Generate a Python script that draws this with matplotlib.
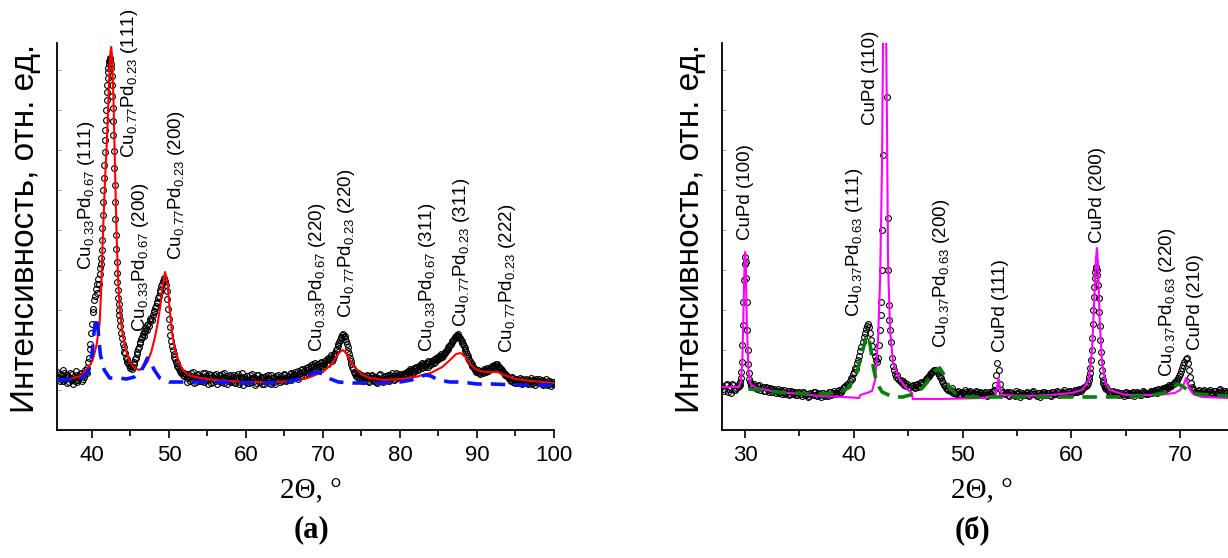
import numpy as np
import matplotlib.pyplot as plt

plt.rcParams['font.family'] = ['Liberation Sans', 'DejaVu Sans']
plt.rcParams['mathtext.default'] = 'regular'

# ---------------- (a) ----------------
# measured scan, segments: (start angle, step, intensities)
a_scan = [
    (35.5, 0.2, [58, 52, 49, 55, 60, 51, 47, 54, 57, 50, 46, 53, 59, 48, 52, 56, 49, 55, 60, 57]),
    (35.6, 0.2, [53, 56, 51, 49, 57, 53, 55, 48, 52, 56, 51, 49, 55, 50, 54, 57, 51, 53, 58]),
    (39.4, 0.1, [62, 68, 72, 81, 86, 97, 106, 118, 121, 130, 134, 141, 137, 146, 151, 146, 156, 162]),
    (41.15, 0.05, [166, 172, 180, 190, 202, 215, 228, 240, 252, 265, 278, 290, 300, 310, 320,
                   330, 338, 345, 352, 358, 362, 366, 369, 372, 371, 370, 366, 362, 354, 345,
                   334, 322, 309, 295, 279, 262, 245, 228, 211, 195, 181, 168, 157, 148, 140,
                   132, 126, 120, 115, 110]),
    (43.7, 0.1, [104, 97, 92, 86, 83, 78, 77, 72, 71, 68,
                 67, 65, 64, 62, 64, 61, 63, 66, 68, 71,
                 72, 76, 78, 81, 83, 87, 88, 91, 93, 96,
                 94, 98, 99, 102, 100, 105, 106, 104, 109, 111,
                 112, 110, 115, 118, 119, 122, 124, 127, 128, 132,
                 134, 138, 140, 144, 146, 149, 150, 152, 149, 145,
                 139, 131, 121, 111, 103, 95, 89, 84, 80, 76,
                 73, 71, 68, 67, 64, 63, 61, 60, 59, 57,
                 58, 55, 57, 54]),
    (52.2, 0.2, [55, 48, 53, 57, 50, 47, 54, 52, 56, 49,
                 51, 57, 48, 54, 50, 56, 47, 53, 55, 49,
                 46, 52, 55, 48, 53, 57, 50, 46, 51, 54,
                 49, 55, 47, 52, 56, 48, 51, 45, 53, 50,
                 54, 47, 52, 56, 49, 45, 51, 55, 48, 53,
                 50, 46, 54, 52, 47, 55, 49, 53, 46, 51,
                 55, 48, 52, 50, 56, 49, 54, 51, 57, 53,
                 52, 58, 55, 51, 57, 60, 54, 59, 62, 57,
                 61, 65, 59, 64, 67, 62, 66, 63, 68, 64,
                 67, 70, 66, 71, 73, 69, 74, 77, 81, 86,
                 90, 93, 96, 94, 89, 83, 76, 69, 63, 58,
                 56, 53, 57, 51, 55, 49, 53, 50, 54, 48,
                 52, 55, 49, 53, 47, 51, 56, 50, 48, 54,
                 51, 55, 49, 53, 57, 50, 54, 52, 56, 53,
                 55, 51, 57, 54, 59, 56, 60, 58, 62, 59,
                 63, 61, 65, 62, 66, 64, 67, 63, 68, 66,
                 69, 67, 71, 70, 73, 72, 75, 74, 77, 79,
                 81, 84, 86, 89, 91, 93, 95, 94, 92, 89,
                 86, 82, 78, 74, 70, 67, 64, 62, 60, 59,
                 58, 56, 59, 57, 60, 58, 61, 60, 63, 62,
                 65, 64, 66, 63, 62, 60, 58, 56, 55, 53,
                 52, 49, 53, 50, 47, 51, 48, 52, 46, 50,
                 48, 51, 46, 49, 52, 47, 50, 45, 49, 51,
                 47, 50, 45, 48, 51, 46, 49, 44, 48, 46]),
    (52.3, 0.2, [52, 56, 49, 54, 58, 51, 48, 55, 50, 53,
                 49, 53, 57, 50, 46, 52, 55, 48, 51, 56,
                 53, 49, 51, 56, 47, 50, 54, 49, 55, 48,
                 52, 48, 54, 50, 46, 53, 57, 49, 51, 47,
                 50, 55, 48, 51, 53, 47, 55, 49, 52, 46,
                 53, 49, 51, 55, 50, 46, 52, 48, 54, 50,
                 51, 54, 49, 55, 52, 50, 53, 56, 50, 55,
                 56, 53, 59, 56, 54, 61, 58, 55, 60, 63,
                 59, 63, 66, 61, 65, 60, 64, 67, 62, 66,
                 69, 66, 72, 70, 75, 71, 76, 80, 84, 88,
                 92, 95, 93, 91, 86, 79, 72, 66, 61, 57,
                 54, 57, 52, 55, 50, 54, 51, 55, 49, 52,
                 54, 50, 53, 48, 52, 55, 49, 52, 50, 53,
                 53, 50, 55, 52, 54, 51, 57, 53, 55, 56,
                 52, 56, 55, 58, 57, 61, 59, 57, 61, 63,
                 60, 64, 63, 67, 65, 63, 66, 69, 65, 68,
                 70, 68, 72, 71, 74, 76, 73, 76, 78, 80,
                 83, 85, 88, 90, 92, 94, 96, 93, 90, 87,
                 84, 80, 76, 72, 69, 66, 63, 61, 58, 60,
                 57, 59, 58, 61, 59, 62, 59, 61, 64, 63,
                 63, 66, 64, 61, 61, 59, 57, 55, 54, 52,
                 50, 52, 48, 51, 49, 47, 50, 47, 51, 48,
                 50, 47, 50, 48, 46, 50, 48, 51, 47, 49,
                 48, 46, 49, 47, 45, 49, 47, 46, 48]),
]
# total fit (red)
a_fit_x = [35.5, 37, 38.5, 39.5, 40.1, 40.6, 41.0, 41.2, 41.4, 41.7, 42.0, 42.2, 42.4, 42.5, 42.6,
           42.8, 43.0, 43.2, 43.4, 43.6, 43.9, 44.3, 44.8, 45.3, 45.8, 46.2, 46.7, 47.2, 47.7, 48.1,
           48.5, 48.9, 49.2, 49.5, 49.8, 50.1, 50.4, 50.8, 51.3, 51.8, 52.5, 54, 56, 60, 64,
           66, 68, 70, 71, 71.7, 72.2, 72.6, 73.0, 73.5, 74, 75, 76, 78, 80, 82,
           84, 85.5, 86.5, 87.3, 87.9, 88.5, 89.2, 90, 91, 92, 92.7, 93.5, 95, 97, 100]
a_fit_y = [50, 51, 54, 62, 70, 85, 107, 140, 190, 250, 300, 345, 378, 383, 375,
           330, 260, 195, 150, 123, 100, 83, 70, 64, 61, 60, 63, 68, 78, 90,
           105, 125, 145, 158, 148, 120, 97, 80, 68, 60, 55, 52, 50, 48, 48,
           49, 52, 58, 65, 73, 78, 80, 77, 70, 64, 56, 52, 50, 51, 53,
           57, 63, 70, 76, 77, 73, 65, 60, 58, 58, 58, 55, 51, 49, 47]
# Cu0.33Pd0.67 component (blue dashed)
a_comp_x = [35.5, 38.5, 39.5, 40.0, 40.3, 40.55, 40.8, 41.1, 41.6, 42.3, 43.5, 44.5, 45.5, 46.3, 46.8,
            47.2, 47.6, 48.1, 48.8, 50, 55, 60, 64, 66, 67.5, 68.5, 69.2, 70, 71, 72,
            74, 78, 80, 81.5, 82.8, 83.4, 84, 85, 86.5, 88, 90, 92, 95, 100]
a_comp_y = [50, 51, 58, 75, 100, 113, 100, 75, 60, 52, 52, 51, 53, 58, 65,
            72, 68, 60, 52, 48, 48, 47, 47, 49, 52, 56, 58, 56, 51, 48,
            47, 47, 48, 50, 54, 55, 54, 50, 48, 48, 46, 46, 45, 45]
a_labels = [r'Cu$_{0.33}$Pd$_{0.67}$ (111)', r'Cu$_{0.77}$Pd$_{0.23}$ (111)',
            r'Cu$_{0.33}$Pd$_{0.67}$ (200)', r'Cu$_{0.77}$Pd$_{0.23}$ (200)',
            r'Cu$_{0.33}$Pd$_{0.67}$ (220)', r'Cu$_{0.77}$Pd$_{0.23}$ (220)',
            r'Cu$_{0.33}$Pd$_{0.67}$ (311)', r'Cu$_{0.77}$Pd$_{0.23}$ (311)',
            r'Cu$_{0.77}$Pd$_{0.23}$ (222)']
a_label_x = [39.3, 44.9, 46.3, 51.0, 69.3, 73.0, 83.6, 88.0, 94.0]
a_label_y = [160, 272, 98, 170, 78, 112, 78, 103, 77]

# ---------------- (б) ----------------
b_scan = [
    (27.9, 0.2, [44, 39, 46, 41, 37, 45, 40, 43]),
    (28.0, 0.2, [41, 45, 38, 43, 46, 40, 42]),
    (29.4, 0.05, [44, 46, 45, 48, 52, 58, 68, 85, 105, 128, 150, 166, 173, 168, 152, 128, 100,
                  80, 66, 57, 51, 48, 46, 44, 45]),
    (30.8, 0.2, [46, 42, 44, 40, 43, 39, 42, 38, 41, 40,
                 37, 41, 38, 36, 40, 37, 35, 39, 36, 38,
                 35, 38, 34, 37, 36, 33, 37, 35, 38, 34,
                 36, 33, 37, 35, 34, 38, 36, 39, 37, 40,
                 38, 42, 44]),
    (30.9, 0.2, [44, 41, 45, 42, 39, 43, 40, 42, 38, 41,
                 39, 37, 40, 38, 36, 39, 36, 38, 37, 35,
                 37, 36, 38, 35, 36, 34, 36, 38, 35, 37,
                 35, 37, 34, 36, 38, 35, 37, 36, 39, 38,
                 40, 43]),
    (39.4, 0.1, [46, 45, 49, 52, 51, 56, 58, 62, 61, 67,
                 70, 74, 79, 83, 88, 93, 97, 101, 104, 106,
                 103, 97, 90, 84, 78, 74, 70, 68, 72, 85]),
    (42.4, 0.05, [100, 115, 128, 160, 200, 275]),
    (43.05, 0.05, [333, 212, 160, 125, 110, 100]),
    (43.4, 0.1, [88, 72, 64, 60, 56, 53, 55, 51, 49, 50, 47, 49, 45, 47, 44, 46]),
    (45.2, 0.2, [43, 45, 42, 46, 44, 48, 47, 51, 53, 56,
                 58, 60, 59, 55, 52, 47, 44, 41, 39, 42,
                 38, 36, 39, 35, 37, 40, 36, 38, 35, 37,
                 39, 36, 38, 35, 37, 34, 38, 36, 39]),
    (45.3, 0.2, [44, 43, 45, 43, 47, 46, 49, 52, 54, 57,
                 59, 60, 57, 53, 49, 45, 42, 40, 40, 37,
                 37, 38, 36, 38, 36, 38, 37, 39, 37, 36,
                 38, 35, 37, 36, 38, 35, 37, 38]),
    (52.9, 0.1, [40, 45, 55, 67, 60, 46, 40, 37, 38]),
    (53.9, 0.2, [36, 38, 34, 37, 35, 39, 36, 33, 37, 35,
                 38, 34, 36, 39, 35, 37, 33, 36, 38, 35,
                 37, 34, 38, 36, 39, 35, 37, 40, 36, 38,
                 39, 37, 40, 38, 41, 39, 42, 44, 47]),
    (54.0, 0.2, [37, 35, 38, 36, 34, 37, 38, 35, 36, 37,
                 35, 37, 38, 36, 34, 37, 36, 38, 36, 37,
                 35, 38, 36, 37, 38, 36, 38, 37, 36, 39,
                 37, 38, 40, 39, 40, 41, 43, 45]),
    (61.6, 0.05, [50, 53, 57, 62, 70, 80, 92, 106, 120, 133,
                  143, 152, 158, 162, 163, 160, 155, 145, 132, 118,
                  104, 90, 78, 68, 60, 54, 50, 47, 45, 44,
                  42, 43, 41]),
    (63.4, 0.2, [40, 37, 39, 36, 38, 35, 37, 34, 38, 36,
                 35, 37, 34, 38, 36, 35, 39, 37, 36, 38,
                 37, 39, 38, 41, 39, 42, 40, 43, 45, 44,
                 47, 49, 52]),
    (63.5, 0.2, [38, 36, 38, 37, 36, 37, 36, 37, 35, 37,
                 36, 38, 36, 37, 35, 37, 38, 36, 37, 39,
                 38, 40, 37, 40, 41, 41, 43, 42, 44, 46,
                 48, 50]),
    (69.9, 0.1, [54, 56, 59, 62, 65, 68, 71, 72, 67, 60, 53, 47, 43, 41, 40]),
    (71.5, 0.2, [38, 40, 37, 39, 36, 38, 40, 37, 39, 36, 38, 41, 37, 39, 38]),
    (71.6, 0.2, [39, 37, 38, 40, 37, 39, 38, 36, 39, 37, 40, 38, 39, 37]),
]
# total fit (magenta)
b_fit_x = [27.9, 29.4, 29.6, 29.75, 29.85, 29.95, 30.0, 30.05, 30.15, 30.3,
           30.5, 31, 33, 35, 37, 39, 40.5, 40.6, 41.2, 41.67,
           41.95, 42.22, 42.41, 42.59, 42.69, 42.82, 42.96, 43.05, 43.14, 43.33,
           43.6, 44.25, 44.98, 45.35, 45.4, 48, 52, 53.0, 53.15, 53.3,
           53.45, 53.6, 56, 58, 60, 61, 61.6, 61.9, 62.1, 62.25,
           62.35, 62.45, 62.6, 62.8, 63.1, 63.5, 65, 68, 69.5, 70.0,
           70.3, 70.55, 70.8, 71.2, 72, 74.4]
b_fit_y = [43, 43, 48, 70, 120, 165, 178, 170, 110, 60,
           46, 42, 38, 36, 34, 33, 32, 35, 37, 39,
           50, 90, 150, 267, 400, 700, 400, 300, 167, 100,
           67, 50, 40, 37, 31, 31, 32, 34, 42, 52,
           42, 35, 34, 35, 37, 40, 50, 80, 130, 170,
           182, 165, 110, 70, 48, 40, 35, 35, 37, 40,
           45, 52, 42, 36, 33, 32]
# Cu0.37Pd0.63 component (green dashed)
b_comp_x = [30.3, 33, 36, 38.5, 39.5, 40.2, 40.7, 41.1, 41.3, 41.5,
            41.8, 42.1, 42.6, 43.6, 44.5, 45.5, 46.3, 47.0, 47.6, 47.9,
            48.3, 48.8, 49.4, 50.5, 55, 60, 64, 67, 68.5, 69.3,
            69.8, 70.2, 70.8, 71.5, 74.4]
b_comp_y = [41, 38, 36, 37, 42, 55, 75, 92, 95, 85,
            62, 47, 38, 33, 33, 36, 42, 52, 60, 62,
            55, 42, 36, 33, 33, 33, 33, 34, 37, 42,
            46, 44, 39, 36, 34]
b_labels = ['CuPd (100)', r'Cu$_{0.37}$Pd$_{0.63}$ (111)', 'CuPd (110)',
            r'Cu$_{0.37}$Pd$_{0.63}$ (200)', 'CuPd (111)', 'CuPd (200)',
            r'Cu$_{0.37}$Pd$_{0.63}$ (220)', 'CuPd (210)']
b_label_x = [30.0, 40.1, 41.5, 48.1, 53.45, 62.4, 68.8, 71.4]
b_label_y = [190, 113, 305, 82, 78, 187, 53, 80]


def expand(scan):
    xs, ys = [], []
    for start, step, vals in scan:
        xs.extend(start + step * np.arange(len(vals)))
        ys.extend(vals)
    return np.array(xs), np.array(ys)


fig = plt.figure(figsize=(12.28, 5.58), dpi=100)
ax1 = fig.add_axes([0.0464, 0.2294, 0.4047, 0.6935])
ax2 = fig.add_axes([0.588, 0.2294, 0.412, 0.6935])

panels = [
    (ax1, a_scan, a_fit_x, a_fit_y, a_comp_x, a_comp_y, '#ff0000', '#0a14ff',
     (35.46, 100), a_labels, a_label_x, a_label_y),
    (ax2, b_scan, b_fit_x, b_fit_y, b_comp_x, b_comp_y, '#ff00ff', '#0b7d0b',
     (27.88, 74.4), b_labels, b_label_x, b_label_y),
]

for ax, scan, fx, fy, cx, cy, fcol, ccol, xl, labs, lx, ly in panels:
    x, y = expand(scan)
    ax.plot(x, y, 'o', ms=4.2, mfc='none', mec='black', mew=0.8, zorder=2)
    ax.plot(fx, fy, color=fcol, lw=1.5, zorder=3)
    ax.plot(cx, cy, color=ccol, lw=2.6, dashes=(4, 2.5), zorder=4)
    for t, tx, ty in zip(labs, lx, ly):
        ax.text(tx, ty, t, rotation=90, ha='center', va='bottom', fontsize=13.5)
    ax.set_xlim(*xl)
    ax.set_ylim(0, 387)
    ax.spines['top'].set_visible(False)
    ax.spines['right'].set_visible(False)
    ax.spines['left'].set_linewidth(1.3)
    ax.spines['bottom'].set_linewidth(1.3)
    ax.xaxis.set_major_locator(plt.MultipleLocator(10))
    ax.xaxis.set_minor_locator(plt.MultipleLocator(5))
    ax.tick_params(axis='x', which='major', length=6, width=1.2, labelsize=16, pad=5)
    ax.tick_params(axis='x', which='minor', length=4, width=1.2)
    ax.yaxis.set_major_locator(plt.MultipleLocator(40))
    ax.tick_params(axis='y', which='major', direction='in', length=3, width=0.6,
                   colors='#999999', labelleft=False)

fig.text(0.0204, 0.5914, 'Интенсивность, отн. ед.', rotation=90, ha='center', va='center', fontsize=24)
fig.text(0.5619, 0.5914, 'Интенсивность, отн. ед.', rotation=90, ha='center', va='center', fontsize=24)
fig.text(0.2533, 1 - 491 / 558, '2Θ, °', ha='center', va='center', fontsize=21, family='Liberation Serif')
fig.text(0.7996, 1 - 491 / 558, '2Θ, °', ha='center', va='center', fontsize=21, family='Liberation Serif')
fig.text(0.2533, 1 - 530 / 558, '(а)', ha='center', va='center', fontsize=22,
         family='Liberation Serif', weight='bold')
fig.text(0.7923, 1 - 530 / 558, '(б)', ha='center', va='center', fontsize=22,
         family='Liberation Serif', weight='bold')

fig.savefig('out.png', dpi=100)
